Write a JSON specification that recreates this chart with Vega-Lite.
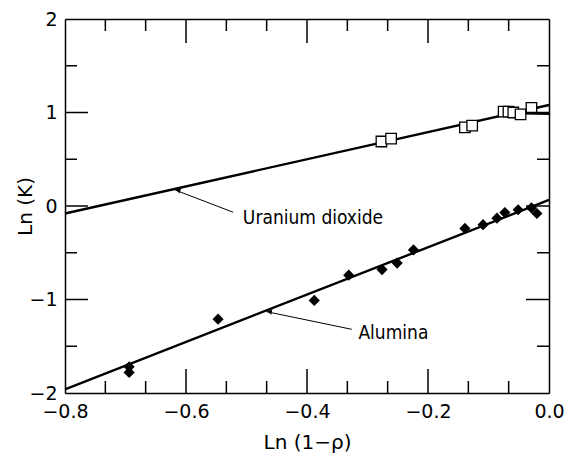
{
  "$schema": "https://vega.github.io/schema/vega-lite/v6.json",
  "width": 484,
  "height": 374,
  "autosize": "none",
  "padding": {"left": 65, "top": 19, "right": 23, "bottom": 62},
  "background": "white",
  "config": {
    "view": {"stroke": null},
    "axis": {
      "domainColor": "black",
      "domainWidth": 1.5,
      "labelColor": "black",
      "titleColor": "black",
      "labelFont": "DejaVu Sans",
      "titleFont": "DejaVu Sans",
      "labelFontSize": 19,
      "titleFontSize": 20,
      "titleFontWeight": "normal",
      "grid": false
    }
  },
  "datasets": {
    "pts": [
      {"x": -0.277, "y": 0.69, "material": "Uranium dioxide"},
      {"x": -0.261, "y": 0.72, "material": "Uranium dioxide"},
      {"x": -0.139, "y": 0.84, "material": "Uranium dioxide"},
      {"x": -0.127, "y": 0.86, "material": "Uranium dioxide"},
      {"x": -0.075, "y": 1.01, "material": "Uranium dioxide"},
      {"x": -0.067, "y": 1.01, "material": "Uranium dioxide"},
      {"x": -0.059, "y": 1.0, "material": "Uranium dioxide"},
      {"x": -0.047, "y": 0.98, "material": "Uranium dioxide"},
      {"x": -0.029, "y": 1.05, "material": "Uranium dioxide"},
      {"x": -0.694, "y": -1.72, "material": "Alumina"},
      {"x": -0.694, "y": -1.78, "material": "Alumina"},
      {"x": -0.547, "y": -1.21, "material": "Alumina"},
      {"x": -0.388, "y": -1.01, "material": "Alumina"},
      {"x": -0.331, "y": -0.74, "material": "Alumina"},
      {"x": -0.276, "y": -0.68, "material": "Alumina"},
      {"x": -0.251, "y": -0.61, "material": "Alumina"},
      {"x": -0.224, "y": -0.47, "material": "Alumina"},
      {"x": -0.139, "y": -0.24, "material": "Alumina"},
      {"x": -0.109, "y": -0.2, "material": "Alumina"},
      {"x": -0.086, "y": -0.13, "material": "Alumina"},
      {"x": -0.073, "y": -0.07, "material": "Alumina"},
      {"x": -0.051, "y": -0.04, "material": "Alumina"},
      {"x": -0.029, "y": -0.02, "material": "Alumina"},
      {"x": -0.02, "y": -0.08, "material": "Alumina"}
    ],
    "fits": [
      {"x": -0.8, "y": -0.08, "seg": "uo2"},
      {"x": 0.0, "y": 1.08, "seg": "uo2"},
      {"x": -0.075, "y": 0.995, "seg": "uo2b"},
      {"x": 0.0, "y": 0.985, "seg": "uo2b"},
      {"x": -0.8, "y": -1.96, "seg": "al"},
      {"x": 0.0, "y": 0.065, "seg": "al"}
    ],
    "notes": [
      {"label": "Uranium dioxide", "hx": -0.618, "hy": 0.171, "tx": -0.522, "ty": -0.067, "lx": -0.506, "ly": -0.13},
      {"label": "Alumina", "hx": -0.467, "hy": -1.13, "tx": -0.326, "ty": -1.319, "lx": -0.315, "ly": -1.362}
    ],
    "xticks": [
      {"v": -0.7333, "kind": "minor", "edge": -2},
      {"v": -0.6667, "kind": "minor", "edge": -2},
      {"v": -0.6, "kind": "major", "edge": -2},
      {"v": -0.5333, "kind": "minor", "edge": -2},
      {"v": -0.4667, "kind": "minor", "edge": -2},
      {"v": -0.4, "kind": "major", "edge": -2},
      {"v": -0.3333, "kind": "minor", "edge": -2},
      {"v": -0.2667, "kind": "minor", "edge": -2},
      {"v": -0.2, "kind": "major", "edge": -2},
      {"v": -0.1333, "kind": "minor", "edge": -2},
      {"v": -0.0667, "kind": "minor", "edge": -2},
      {"v": -0.7333, "kind": "minor", "edge": 2},
      {"v": -0.6667, "kind": "minor", "edge": 2},
      {"v": -0.6, "kind": "major", "edge": 2},
      {"v": -0.5333, "kind": "minor", "edge": 2},
      {"v": -0.4667, "kind": "minor", "edge": 2},
      {"v": -0.4, "kind": "major", "edge": 2},
      {"v": -0.3333, "kind": "minor", "edge": 2},
      {"v": -0.2667, "kind": "minor", "edge": 2},
      {"v": -0.2, "kind": "major", "edge": 2},
      {"v": -0.1333, "kind": "minor", "edge": 2},
      {"v": -0.0667, "kind": "minor", "edge": 2}
    ],
    "yticks": [
      {"v": -1.5, "kind": "minor", "edge": -0.8},
      {"v": -1, "kind": "major", "edge": -0.8},
      {"v": -0.5, "kind": "minor", "edge": -0.8},
      {"v": 0, "kind": "major", "edge": -0.8},
      {"v": 0.5, "kind": "minor", "edge": -0.8},
      {"v": 1, "kind": "major", "edge": -0.8},
      {"v": 1.5, "kind": "minor", "edge": -0.8},
      {"v": -1.5, "kind": "minor", "edge": 0},
      {"v": -1, "kind": "major", "edge": 0},
      {"v": -0.5, "kind": "minor", "edge": 0},
      {"v": 0, "kind": "major", "edge": 0},
      {"v": 0.5, "kind": "minor", "edge": 0},
      {"v": 1, "kind": "major", "edge": 0},
      {"v": 1.5, "kind": "minor", "edge": 0}
    ]
  },
  "resolve": {"axis": {"x": "independent", "y": "independent"}},
  "layer": [
    {
      "data": {"name": "fits"},
      "mark": {"type": "line", "color": "black", "strokeWidth": 2.4},
      "encoding": {
        "x": {
          "field": "x", "type": "quantitative",
          "scale": {"domain": [-0.8, 0], "nice": false, "zero": false},
          "axis": {
            "orient": "bottom",
            "title": "Ln (1−ρ)",
            "titleY": 55,
            "titleBaseline": "alphabetic",
            "values": [-0.8, -0.6, -0.4, -0.2, 0],
            "format": ".1f",
            "ticks": false,
            "tickSize": 0,
            "labelPadding": 9,
            "labelFlush": false
          }
        },
        "y": {
          "field": "y", "type": "quantitative",
          "scale": {"domain": [-2, 2], "nice": false, "zero": false},
          "axis": {
            "orient": "left",
            "title": "Ln (K)",
            "titleX": -40,
            "titleY": 187,
            "titleAlign": "center",
            "titleBaseline": "middle",
            "titleAngle": -90,
            "values": [-2, -1, 0, 1, 2],
            "format": "d",
            "ticks": false,
            "tickSize": 0,
            "labelPadding": 8,
            "labelFlush": false
          }
        },
        "detail": {"field": "seg"}
      }
    },
    {
      "data": {"name": "pts"},
      "transform": [{"filter": "datum.material == 'Uranium dioxide'"}],
      "mark": {"type": "point", "shape": "square", "size": 110, "filled": false, "fill": "white", "fillOpacity": 1, "stroke": "black", "strokeWidth": 1.3, "opacity": 1},
      "encoding": {
        "x": {
          "field": "x", "type": "quantitative",
          "axis": {"orient": "top", "title": null, "labels": false, "ticks": false, "values": [-0.8, 0]}
        },
        "y": {
          "field": "y", "type": "quantitative",
          "axis": {"orient": "right", "title": null, "labels": false, "ticks": false, "values": [-2, 2]}
        }
      }
    },
    {
      "data": {"name": "pts"},
      "transform": [{"filter": "datum.material == 'Alumina'"}],
      "mark": {"type": "point", "shape": "diamond", "size": 125, "filled": true, "color": "black", "opacity": 1},
      "encoding": {
        "x": {"field": "x", "type": "quantitative", "axis": null},
        "y": {"field": "y", "type": "quantitative", "axis": null}
      }
    },
    {
      "data": {"name": "xticks"},
      "transform": [{"filter": "datum.kind == 'major'"}],
      "mark": {"type": "tick", "orient": "vertical", "color": "black", "thickness": 1.5, "size": 48, "clip": true, "opacity": 1},
      "encoding": {
        "x": {"field": "v", "type": "quantitative", "axis": null},
        "y": {"field": "edge", "type": "quantitative", "axis": null}
      }
    },
    {
      "data": {"name": "xticks"},
      "transform": [{"filter": "datum.kind == 'minor'"}],
      "mark": {"type": "tick", "orient": "vertical", "color": "black", "thickness": 1.5, "size": 24, "clip": true, "opacity": 1},
      "encoding": {
        "x": {"field": "v", "type": "quantitative", "axis": null},
        "y": {"field": "edge", "type": "quantitative", "axis": null}
      }
    },
    {
      "data": {"name": "yticks"},
      "transform": [{"filter": "datum.kind == 'major'"}],
      "mark": {"type": "tick", "orient": "horizontal", "color": "black", "thickness": 1.5, "size": 46, "clip": true, "opacity": 1},
      "encoding": {
        "y": {"field": "v", "type": "quantitative", "axis": null},
        "x": {"field": "edge", "type": "quantitative", "axis": null}
      }
    },
    {
      "data": {"name": "yticks"},
      "transform": [{"filter": "datum.kind == 'minor'"}],
      "mark": {"type": "tick", "orient": "horizontal", "color": "black", "thickness": 1.5, "size": 24, "clip": true, "opacity": 1},
      "encoding": {
        "y": {"field": "v", "type": "quantitative", "axis": null},
        "x": {"field": "edge", "type": "quantitative", "axis": null}
      }
    },
    {
      "data": {"name": "notes"},
      "mark": {"type": "rule", "color": "black", "strokeWidth": 1},
      "encoding": {
        "x": {"field": "hx", "type": "quantitative", "axis": null},
        "y": {"field": "hy", "type": "quantitative", "axis": null},
        "x2": {"field": "tx"},
        "y2": {"field": "ty"}
      }
    },
    {
      "data": {"name": "notes"},
      "transform": [{"filter": "datum.label == 'Uranium dioxide'"}],
      "mark": {"type": "point", "shape": "triangle-left", "size": 30, "filled": true, "color": "black", "opacity": 1, "angle": 21, "xOffset": 3},
      "encoding": {
        "x": {"field": "hx", "type": "quantitative", "axis": null},
        "y": {"field": "hy", "type": "quantitative", "axis": null}
      }
    },
    {
      "data": {"name": "notes"},
      "transform": [{"filter": "datum.label == 'Alumina'"}],
      "mark": {"type": "point", "shape": "triangle-left", "size": 30, "filled": true, "color": "black", "opacity": 1, "angle": 12, "xOffset": 3},
      "encoding": {
        "x": {"field": "hx", "type": "quantitative", "axis": null},
        "y": {"field": "hy", "type": "quantitative", "axis": null}
      }
    },
    {
      "data": {"name": "notes"},
      "mark": {"type": "text", "align": "left", "baseline": "middle", "font": "DejaVu Sans Condensed", "fontSize": 19, "color": "black"},
      "encoding": {
        "x": {"field": "lx", "type": "quantitative", "axis": null},
        "y": {"field": "ly", "type": "quantitative", "axis": null},
        "text": {"field": "label"}
      }
    }
  ]
}
